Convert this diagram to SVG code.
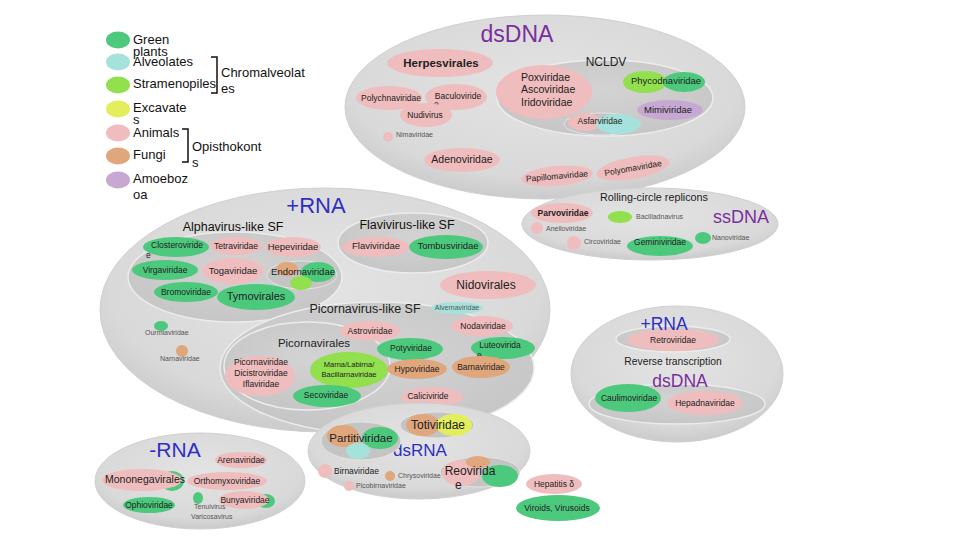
<svg xmlns="http://www.w3.org/2000/svg" width="960" height="540" viewBox="0 0 960 540">
<defs>
<radialGradient id="gBig" cx="50%" cy="40%" r="60%">
<stop offset="0%" stop-color="#e3e3e3"/><stop offset="80%" stop-color="#d9d9d9"/><stop offset="100%" stop-color="#cbcbcb"/>
</radialGradient>
<radialGradient id="gSub" cx="50%" cy="40%" r="60%">
<stop offset="0%" stop-color="#d3d3d3"/><stop offset="100%" stop-color="#c6c6c6"/>
</radialGradient>
<style>
.big{fill:url(#gBig);stroke:#d0d0d0;stroke-width:1}
.sub{fill:url(#gSub);stroke:#ececec;stroke-width:1.5}
.grp{fill:#c4c4c4;stroke:#e4e4e4;stroke-width:1}
.gp{fill:#4cc97c}
.al{fill:#a6e2dc}
.st{fill:#92e04e}
.ex{fill:#e2ee5c}
.an{fill:#efbdbd}
.fu{fill:#e0a67c}
.am{fill:#c6a8d2}
text{font-family:"Liberation Sans",Arial,sans-serif;fill:#222}
.lg{font-size:13px;fill:#111}
.c{text-anchor:middle}
.s7{font-size:7px;fill:#555}
.s8{font-size:8.5px}
.s9{font-size:9.5px}
.s10{font-size:10.5px}
.s12{font-size:12px}
.hd{font-size:12.5px;fill:#111}
.blue{fill:#2f2fc4}
.purp{fill:#7a2f9c}
.br{fill:none;stroke:#111;stroke-width:1.5}
</style>
</defs>
<rect width="960" height="540" fill="#ffffff"/>

<!-- Legend -->
<g id="legend">
<g id="lg-green"><ellipse class="gp" cx="118" cy="40" rx="12" ry="8.5"/><text class="lg" x="133" y="44">Green</text><text class="lg" x="133" y="56">plants</text></g>
<g id="lg-alv"><ellipse class="al" cx="118" cy="62" rx="12" ry="8.5"/><text class="lg" x="133" y="66">Alveolates</text></g>
<g id="lg-stram"><ellipse class="st" cx="118" cy="85" rx="12" ry="8.5"/><text class="lg" x="133" y="88">Stramenopiles</text></g>
<g id="lg-exc"><ellipse class="ex" cx="118" cy="109" rx="12" ry="8.5"/><text class="lg" x="133" y="112">Excavate</text><text class="lg" x="133" y="124">s</text></g>
<g id="lg-anim"><ellipse class="an" cx="118" cy="133" rx="12" ry="8.5"/><text class="lg" x="133" y="137">Animals</text></g>
<g id="lg-fungi"><ellipse class="fu" cx="118" cy="156" rx="12" ry="8.5"/><text class="lg" x="133" y="159">Fungi</text></g>
<g id="lg-amoe"><ellipse class="am" cx="118" cy="180" rx="12" ry="8.5"/><text class="lg" x="133" y="183">Amoeboz</text><text class="lg" x="133" y="199">oa</text></g>
<g id="lg-chromalveolates"><path class="br" d="M211,57 H217 V93 H211"/><text class="lg" x="221" y="77">Chromalveolat</text><text class="lg" x="221" y="93">es</text></g>
<g id="lg-opisthokonts"><path class="br" d="M182,129 H188 V162 H182"/><text class="lg" x="192" y="151">Opisthokont</text><text class="lg" x="192" y="167">s</text></g>
</g>

<!-- dsDNA -->
<g id="dsDNA">
<ellipse class="big" cx="545" cy="107" rx="200" ry="92"/>
<text x="517" y="42" class="c purp" font-size="23">dsDNA</text>
<g id="ncldv">
<ellipse class="sub" cx="605" cy="98" rx="108" ry="38"/>
<text class="c s12" x="606" y="66">NCLDV</text>
<g id="poxviridae"><ellipse class="an" cx="544" cy="92" rx="48" ry="27"/>
<text class="s10" x="521" y="81">Poxviridae</text><text class="s10" x="521" y="93">Ascoviridae</text><text class="s10" x="521" y="106">Iridoviridae</text></g>
<g id="phycodnaviridae"><ellipse class="st" cx="645" cy="82" rx="22" ry="11"/><ellipse class="gp" cx="684" cy="82" rx="21" ry="10"/><text class="c s9" x="666" y="84">Phycodnaviridae</text></g>
<g id="mimiviridae"><ellipse class="am" cx="670" cy="110" rx="33" ry="10"/><text class="c s9" x="668" y="113">Mimiviridae</text></g>
<g id="asfarviridae"><ellipse class="grp" cx="602" cy="124" rx="38" ry="11"/><ellipse class="an" cx="585" cy="122" rx="17" ry="9"/><ellipse class="al" cx="618" cy="124" rx="22" ry="10"/><text class="c s8" x="600" y="124">Asfarviridae</text></g>
</g>
<g id="herpesvirales"><ellipse class="an" cx="440" cy="63" rx="53" ry="14"/><text class="c" font-size="11.5" font-weight="bold" x="441" y="67">Herpesvirales</text></g>
<g id="polychnaviridae"><ellipse class="an" cx="389" cy="98" rx="33" ry="12"/><text class="c s8" x="391" y="101">Polychnaviridae</text></g>
<g id="baculoviridae"><ellipse class="an" cx="456" cy="97" rx="31" ry="13"/><text class="c s8" x="458" y="99">Baculoviride</text><text class="s8" x="434" y="107">e</text></g>
<g id="nudivirus"><ellipse class="an" cx="426" cy="115" rx="26" ry="12"/><text class="c s8" x="425" y="118">Nudivirus</text></g>
<g id="nimaviridae"><circle class="an" cx="388" cy="137" r="5"/><text class="s7" x="396" y="137">Nimaviridae</text></g>
<g id="adenoviridae"><ellipse class="an" cx="462" cy="160" rx="38" ry="12"/><text class="c s10" x="462" y="163">Adenoviridae</text></g>
<g id="papillomaviridae" transform="rotate(-5 557 176)"><ellipse class="an" cx="557" cy="176" rx="36" ry="10"/><text class="c s8" x="557" y="179">Papillomaviridae</text></g>
<g id="polyomaviridae" transform="rotate(-10 633 168)"><ellipse class="an" cx="633" cy="168" rx="37" ry="11"/><text class="c s8" x="633" y="171">Polyomaviridae</text></g>
</g>

<!-- ssDNA -->
<g id="ssDNA">
<ellipse class="big" cx="650" cy="224" rx="128" ry="36"/>
<text class="c" font-size="10.8" x="654" y="201">Rolling-circle replicons</text>
<text class="c purp" font-size="18" x="741" y="223">ssDNA</text>
<g id="parvoviridae"><ellipse class="an" cx="562" cy="213" rx="31" ry="10"/><text class="c s8" font-weight="bold" x="563" y="216">Parvoviridae</text></g>
<g id="bacilladnavirus"><ellipse class="st" cx="620" cy="217" rx="12" ry="6"/><text class="s7" x="636" y="219">Bacilladnavirus</text></g>
<g id="anelloviridae"><circle class="an" cx="537" cy="228" r="6"/><text class="s7" x="546" y="231">Anelloviridae</text></g>
<g id="circoviridae"><circle class="an" cx="574" cy="243" r="7"/><text class="s7" x="584" y="244">Circoviridae</text></g>
<g id="geminiviridae"><ellipse class="gp" cx="660" cy="246" rx="33" ry="10"/><text class="c s8" x="660" y="245">Geminiviridae</text></g>
<g id="nanoviridae"><ellipse class="gp" cx="703" cy="238" rx="8" ry="6"/><text class="s7" x="712" y="240">Nanoviridae</text></g>
</g>

<!-- +RNA -->
<g id="plusRNA">
<ellipse class="big" cx="325" cy="310" rx="225" ry="122"/>
<text class="c blue" font-size="22" x="316" y="213">+RNA</text>
<g id="alphavirus-like">
<ellipse class="sub" cx="235" cy="277" rx="107" ry="45"/>
<text class="c hd" x="233" y="231">Alphavirus-like SF</text>
<g id="closteroviridae"><ellipse class="gp" cx="176" cy="247" rx="33" ry="10"/><text class="c s8" x="177" y="248">Closteroviride</text><text class="s8" x="146" y="258">e</text></g>
<g id="tetraviridae"><ellipse class="an" cx="236" cy="246" rx="26" ry="9"/><text class="c s8" x="236" y="249">Tetraviridae</text></g>
<g id="hepeviridae"><ellipse class="an" cx="293" cy="247" rx="28" ry="10"/><text class="c s9" x="293" y="250">Hepeviridae</text></g>
<g id="virgaviridae"><ellipse class="gp" cx="165" cy="270" rx="33" ry="10"/><text class="c s8" x="165" y="273">Virgaviridae</text></g>
<g id="togaviridae"><ellipse class="an" cx="233" cy="271" rx="31" ry="13"/><text class="c s9" x="233" y="274">Togaviridae</text></g>
<g id="endornaviridae"><ellipse class="grp" cx="302" cy="275" rx="35" ry="14"/><ellipse class="fu" cx="287" cy="269" rx="11" ry="7"/><ellipse class="gp" cx="318" cy="272" rx="17" ry="10"/><ellipse class="st" cx="301" cy="283" rx="11" ry="7"/><text class="c s9" x="303" y="275">Endornaviridae</text></g>
<g id="bromoviridae"><ellipse class="gp" cx="186" cy="292" rx="32" ry="10"/><text class="c s8" x="186" y="295">Bromoviridae</text></g>
<g id="tymovirales"><ellipse class="gp" cx="256" cy="297" rx="39" ry="13"/><text class="c" font-size="11" x="256" y="300">Tymovirales</text></g>
</g>
<g id="flavivirus-like">
<ellipse class="sub" cx="413" cy="243" rx="75" ry="30"/>
<text class="c hd" x="407" y="229">Flavivirus-like SF</text>
<g id="flaviviridae"><ellipse class="an" cx="376" cy="247" rx="34" ry="10"/><text class="c s9" x="376" y="249">Flaviviridae</text></g>
<g id="tombusviridae"><ellipse class="gp" cx="446" cy="247" rx="37" ry="12"/><text class="c s9" x="448" y="249">Tombusviridae</text></g>
</g>
<g id="nidovirales"><ellipse class="an" cx="488" cy="285" rx="48" ry="14"/><text class="c s12" x="486" y="289">Nidovirales</text></g>
<g id="ourmiaviridae"><ellipse class="gp" cx="161" cy="326" rx="7" ry="5"/><text class="s7" x="145" y="335">Ourmiaviridae</text></g>
<g id="narnaviridae"><circle class="fu" cx="182" cy="351" r="6"/><text class="s7" x="160" y="361">Narnaviridae</text></g>
<g id="picornavirus-like">
<ellipse class="sub" cx="377" cy="368" rx="157" ry="66"/>
<text class="c" font-size="12.5" x="365" y="313">Picornavirus-like SF</text>
<g id="alvernaviridae"><ellipse class="al" cx="457" cy="308" rx="26" ry="6"/><text class="c s7" x="457" y="310">Alvernaviridae</text></g>
<g id="picornavirales">
<ellipse class="sub" cx="307" cy="366" rx="83" ry="44"/>
<text class="c" font-size="11.5" x="314" y="347">Picornavirales</text>
<g id="picornaviridae"><ellipse class="an" cx="260" cy="376" rx="35" ry="20"/><text class="c s8" x="261" y="365">Picornaviridae</text><text class="c s8" x="261" y="376">Dicistroviridae</text><text class="c s8" x="261" y="387">Iflaviridae</text></g>
<g id="marnaviridae"><ellipse class="st" cx="349" cy="370" rx="39" ry="18"/><text class="c" font-size="7.5" fill="#2a7a3a" x="349" y="367">Marna/Labirna/</text><text class="c" font-size="7.5" fill="#2a7a3a" x="349" y="377">Bacillarnaviridae</text></g>
<g id="secoviridae"><ellipse class="gp" cx="327" cy="396" rx="34" ry="11"/><text class="c s8" x="326" y="398">Secoviridae</text></g>
</g>
<g id="astroviridae"><ellipse class="an" cx="370" cy="331" rx="30" ry="10"/><text class="c s8" x="370" y="334">Astroviridae</text></g>
<g id="potyviridae"><ellipse class="gp" cx="410" cy="349" rx="33" ry="11"/><text class="c s8" x="411" y="351">Potyviridae</text></g>
<g id="nodaviridae"><ellipse class="an" cx="482" cy="326" rx="31" ry="10"/><text class="c s8" x="483" y="329">Nodaviridae</text></g>
<g id="luteoviridae"><ellipse class="gp" cx="503" cy="348" rx="32" ry="11"/><text class="c s8" x="500" y="348">Luteovirida</text><text class="s8" x="477" y="358">e</text></g>
<g id="hypoviridae"><ellipse class="fu" cx="417" cy="369" rx="30" ry="10"/><text class="c s8" x="417" y="372">Hypoviridae</text></g>
<g id="barnaviridae"><ellipse class="fu" cx="481" cy="367" rx="29" ry="11"/><text class="c s8" x="481" y="370">Barnaviridae</text></g>
<g id="caliciviridae"><ellipse class="an" cx="432" cy="397" rx="31" ry="10"/><text class="c s8" x="428" y="399">Caliciviride</text><text class="s8" x="410" y="409">e</text></g>
</g>
</g>

<!-- dsRNA -->
<g id="dsRNA">
<ellipse class="big" cx="419" cy="451" rx="111" ry="48"/>
<text class="c blue" font-size="17" x="420" y="456">dsRNA</text>
<g id="totiviridae"><ellipse class="grp" cx="437" cy="425" rx="37" ry="13"/><ellipse class="fu" cx="423" cy="425" rx="17" ry="11"/><ellipse class="ex" cx="454" cy="425" rx="18" ry="11"/><text class="c s12" x="438" y="429">Totiviridae</text></g>
<g id="partitiviridae"><ellipse class="grp" cx="361" cy="441" rx="40" ry="19"/><ellipse class="fu" cx="343" cy="436" rx="16" ry="11"/><ellipse class="gp" cx="380" cy="438" rx="18" ry="11"/><ellipse class="al" cx="358" cy="451" rx="12" ry="8"/><text class="c" font-size="11.5" x="361" y="442">Partitiviridae</text></g>
<g id="birnaviridae"><circle class="an" cx="325" cy="471" r="7"/><text class="s8" x="334" y="474">Birnaviridae</text></g>
<g id="chrysoviridae"><circle class="fu" cx="390" cy="476" r="5"/><text class="s7" x="398" y="478">Chrysoviridae</text></g>
<g id="picobirnaviridae"><circle class="an" cx="349" cy="486" r="5"/><text class="s7" x="356" y="488">Picobirnaviridae</text></g>
<g id="reoviridae"><ellipse class="grp" cx="480" cy="472" rx="40" ry="15"/><ellipse class="an" cx="461" cy="473" rx="19" ry="13"/><ellipse class="fu" cx="478" cy="462" rx="12" ry="6"/><ellipse class="gp" cx="500" cy="476" rx="18" ry="11"/><text class="c s12" x="470" y="475">Reovirida</text><text class="s12" x="455" y="489">e</text></g>
</g>
<g id="hepatitis-delta"><ellipse class="an" cx="554" cy="484" rx="28" ry="10"/><text class="c s8" x="554" y="487">Hepatitis δ</text></g>
<g id="viroids"><ellipse class="gp" cx="558" cy="508" rx="42" ry="13"/><text class="c s8" x="557" y="511">Viroids, Virusoids</text></g>

<!-- -RNA -->
<g id="minusRNA">
<ellipse class="big" cx="200" cy="481" rx="105" ry="48"/>
<text class="c blue" font-size="21" x="175" y="457">-RNA</text>
<g id="arenaviridae"><ellipse class="an" cx="241" cy="460" rx="26" ry="8"/><text class="c s8" x="241" y="463">Arenaviridae</text></g>
<g id="mononegavirales"><ellipse class="gp" cx="172" cy="481" rx="12" ry="10"/><ellipse class="an" cx="142" cy="480" rx="40" ry="11"/><text class="c s10" x="145" y="483">Mononegavirales</text></g>
<g id="orthomyxoviridae"><ellipse class="an" cx="227" cy="481" rx="40" ry="9"/><text class="c s8" x="227" y="484">Orthomyxoviridae</text></g>
<g id="ophioviridae"><ellipse class="gp" cx="149" cy="505" rx="26" ry="8"/><text class="c s8" x="149" y="508">Ophioviridae</text></g>
<g id="tenuivirus"><ellipse class="gp" cx="198" cy="498" rx="5" ry="6"/><text class="s7" x="194" y="509">Tenuivirus</text><text class="s7" x="191" y="519">Varicosavirus</text></g>
<g id="bunyaviridae"><ellipse class="gp" cx="266" cy="501" rx="9" ry="7"/><ellipse class="an" cx="244" cy="500" rx="25" ry="9"/><text class="c s8" x="245" y="503">Bunyaviridae</text></g>
</g>

<!-- Reverse transcription -->
<g id="reverse-transcription">
<ellipse class="big" cx="677" cy="374" rx="106" ry="68"/>
<g id="rt-plusRNA"><ellipse class="sub" cx="673" cy="339" rx="57" ry="13"/>
<g id="retroviridae"><ellipse class="an" cx="673" cy="340" rx="46" ry="11"/><text class="c s8" x="673" y="343">Retroviridae</text></g></g>
<text class="c blue" font-size="17.5" x="664" y="330">+RNA</text>
<text class="c" font-size="10.3" x="673" y="365">Reverse transcription</text>
<g id="rt-dsDNA"><ellipse class="sub" cx="677" cy="404" rx="88" ry="20"/>
<g id="caulimoviridae"><ellipse class="gp" cx="628" cy="398" rx="33" ry="14"/><text class="c s8" x="629" y="401">Caulimoviridae</text></g>
<g id="hepadnaviridae"><ellipse class="an" cx="705" cy="403" rx="38" ry="12"/><text class="c s8" x="705" y="406">Hepadnaviridae</text></g></g>
<text class="c purp" font-size="17.5" x="680" y="387">dsDNA</text>
</g>
</svg>
